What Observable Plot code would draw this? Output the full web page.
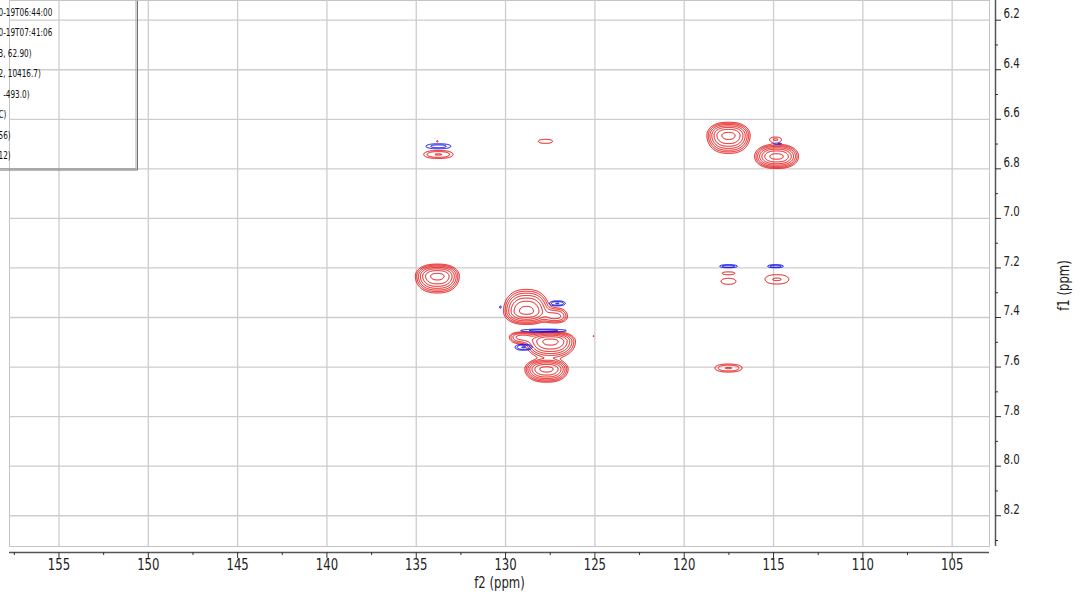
<!DOCTYPE html>
<html>
<head>
<meta charset="utf-8">
<script src="https://cdn.jsdelivr.net/npm/d3@7"></script>
<script src="https://cdn.jsdelivr.net/npm/@observablehq/plot@0.6"></script>
<style>
  html, body { margin: 0; padding: 0; background: #fff; }
  #chart { position: relative; width: 1082px; height: 596px; overflow: hidden; }
</style>
</head>
<body>
<div id="chart"></div>
<script>
// HSQC aromatic region: cross-peaks as (13C shift f2, 1H shift f1, height, linewidths in ppm).
// Negative heights are the opposite-phase (blue) contours.
const peakF2 = [133.82, 128.83, 127.21, 127.49, 129.11, 127.71, 117.52, 114.83, 114.89,
                133.76, 133.82, 127.77, 125.08, 117.52, 117.52, 114.81, 117.52,
                133.76, 114.77, 127.10, 130.29, 127.88, 128.99, 117.52, 114.89];
const peakF1 = [7.233, 7.375, 7.395, 7.496, 7.479, 7.608, 6.665, 6.750, 6.681,
                6.742, 6.689, 6.689, 7.475, 7.221, 7.254, 7.246, 7.604,
                6.709, 6.699, 7.343, 7.358, 7.453, 7.520, 7.193, 7.193];
const peakHeight = [13, 13, 4, 13, 4, 13, 13, 13, 1.5,
                    2.3, 1.1, 1.5, 1.1, 1.4, 1.5, 1.55, 2.3,
                    -1.8, -1.3, -2.3, -1.15, -1.8, -2.3, -2.0, -2.0];
const peakWidthF2 = [0.64, 0.67, 0.45, 0.73, 0.45, 0.63, 0.63, 0.64, 0.34,
                     0.67, 0.09, 0.43, 0.06, 0.39, 0.45, 0.70, 0.62,
                     0.655, 0.28, 0.36, 0.084, 1.20, 0.39, 0.44, 0.39];
const peakWidthF1Up = [0.0214, 0.039, 0.020, 0.0177, 0.012, 0.0177, 0.0234, 0.0214, 0.010,
                       0.0125, 0.006, 0.009, 0.004, 0.006, 0.0133, 0.020, 0.0125,
                       0.0093, 0.004, 0.0078, 0.008, 0.0056, 0.0093, 0.0052, 0.0052];
const peakWidthF1Down = [0.030, 0.0234, 0.016, 0.030, 0.016, 0.0234, 0.032, 0.0214, 0.010,
                         0.0125, 0.006, 0.009, 0.004, 0.006, 0.0133, 0.020, 0.0125,
                         0.0093, 0.004, 0.0078, 0.008, 0.0056, 0.0093, 0.0052, 0.0052];

const contourLevels = [1, 1.5, 2.25, 3.4, 5.1, 7.6, 11.4];

const f2Ticks = [155, 150, 145, 140, 135, 130, 125, 120, 115, 110, 105];
const f2MinorTicks = [157.5, 152.5, 147.5, 142.5, 137.5, 132.5, 127.5, 122.5, 117.5, 112.5, 107.5];
const f1Ticks = [6.2, 6.4, 6.6, 6.8, 7.0, 7.2, 7.4, 7.6, 7.8, 8.0, 8.2];
const f1MinorTicks = [6.3, 6.5, 6.7, 6.9, 7.1, 7.3, 7.5, 7.7, 7.9, 8.1, 8.3];

const legendLines = ["0-19T06:44:00", "0-19T07:41:06", "3, 62.90)", "2, 10416.7)",
                     "\u00a0\u00a0-493.0)", "C)", "56)", "12)"];

// spectral window shown
const X_LEFT = 157.77, X_RIGHT = 102.91;
const Y_TOP = 6.1206, Y_BOTTOM = 8.3242;

// summed peak surface for one phase (sign = +1 or -1)
function surface(sign) {
  const n = peakF2.length;
  return (x, y) => {
    let v = 0;
    for (let i = 0; i < n; ++i) {
      const h = peakHeight[i] * sign;
      if (h <= 0) continue;
      const u = Math.abs(x - peakF2[i]) / peakWidthF2[i];
      if (u > 4) continue;
      const dy = y - peakF1[i];
      const t = dy / (dy < 0 ? peakWidthF1Up[i] : peakWidthF1Down[i]);
      if (t * t > 32) continue;
      v += h * Math.exp(-0.5 * (Math.pow(u, 2.5) + t * t));
    }
    return v;
  };
}

const FONT = "'DejaVu Sans', sans-serif";
const axisColor = "#555";

const chart = Plot.plot({
  width: 1082,
  height: 596,
  marginLeft: 9,
  marginRight: 93,
  marginTop: 0,
  marginBottom: 50,
  x: {domain: [X_LEFT, X_RIGHT], axis: null},
  y: {domain: [Y_BOTTOM, Y_TOP], axis: null},
  style: {fontFamily: FONT, background: "#fff", color: "#222"},
  marks: [
    Plot.frame({stroke: "#c4c4c4"}),
    Plot.ruleX(f2Ticks, {x: d => d, y1: Y_TOP, y2: Y_BOTTOM, stroke: "#cdcdcd", strokeWidth: 1.3}),
    Plot.ruleY(f1Ticks, {y: d => d, x1: X_LEFT, x2: X_RIGHT, stroke: "#cdcdcd", strokeWidth: 1.3}),

    // positive and negative contours
    Plot.contour({
      value: surface(1), x1: X_RIGHT, x2: X_LEFT, y1: Y_TOP, y2: Y_BOTTOM,
      thresholds: contourLevels, pixelSize: 0.5,
      fill: "none", stroke: "#e60000", strokeWidth: 1
    }),
    Plot.contour({
      value: surface(-1), x1: X_RIGHT, x2: X_LEFT, y1: Y_TOP, y2: Y_BOTTOM,
      thresholds: contourLevels, pixelSize: 0.5,
      fill: "none", stroke: "#0000e6", strokeWidth: 1
    }),

    // f2 axis (bottom)
    Plot.ruleY([Y_BOTTOM], {y: d => d, x1: X_LEFT, x2: X_RIGHT, dy: 6, stroke: axisColor, strokeWidth: 1.5}),
    Plot.ruleX(f2Ticks, {x: d => d, y1: Y_BOTTOM, y2: Y_BOTTOM, dy: 6, insetBottom: -6, stroke: "#333"}),
    Plot.ruleX(f2MinorTicks, {x: d => d, y1: Y_BOTTOM, y2: Y_BOTTOM, dy: 6, insetBottom: -3, stroke: "#333"}),
    Plot.text(f2Ticks, {x: d => d, y: Y_BOTTOM, dy: 18, text: d => String(d),
      fontSize: 16, fontFamily: FONT, fill: "#222"}),
    Plot.text(["f2 (ppm)"], {frameAnchor: "bottom", dy: 36, lineAnchor: "middle", textAnchor: "middle",
      text: d => d, fontSize: 16, fontFamily: FONT, fill: "#222"}),

    // f1 axis (right)
    Plot.ruleX([X_RIGHT], {x: d => d, y1: Y_TOP, y2: Y_BOTTOM, dx: 6, stroke: axisColor, strokeWidth: 1.5}),
    Plot.ruleY(f1Ticks, {y: d => d, x1: X_RIGHT, x2: X_RIGHT, dx: 6, insetRight: -6, stroke: "#333"}),
    Plot.ruleY(f1MinorTicks, {y: d => d, x1: X_RIGHT, x2: X_RIGHT, dx: 6, insetRight: -3, stroke: "#333"}),
    Plot.text(f1Ticks, {x: X_RIGHT, y: d => d, dx: 14, dy: -6.5, textAnchor: "start",
      text: d => d.toFixed(1), fontSize: 14, fontFamily: FONT, fill: "#222"}),
    Plot.text(["f1 (ppm)"], {frameAnchor: "right", dx: 74, dy: 12, rotate: -90,
      textAnchor: "middle", lineAnchor: "middle", text: d => d,
      fontSize: 16, fontFamily: FONT, fill: "#222"}),

    // acquisition parameters panel
    Plot.text([legendLines.join("\n")], {frameAnchor: "top-left", dx: -11, dy: 0.5, lineAnchor: "top",
      textAnchor: "start", lineHeight: 2.05, text: d => d,
      fontSize: 10, fontFamily: FONT, fill: "#111"})
  ]
});

// parameters panel outline with drop shadow
const svg = d3.select(chart);
const panel = svg.append("g").attr("fill", "none");
panel.append("rect").attr("x", -4).attr("y", -4).attr("width", 140).attr("height", 172.5)
  .attr("stroke", "#a8a8a8");
panel.append("path").attr("d", "M137.5,1V170H-4").attr("stroke", "#707070");

document.getElementById("chart").append(chart);

// narrow lettering: compress every label horizontally
const squeeze = 0.73;
chart.querySelectorAll("text").forEach(t => {
  const spans = t.querySelectorAll("tspan");
  (spans.length ? Array.from(spans) : [t]).forEach(el => {
    const w = el.getComputedTextLength();
    if (w > 0) {
      el.setAttribute("textLength", (w * squeeze).toFixed(2));
      el.setAttribute("lengthAdjust", "spacingAndGlyphs");
    }
  });
});
</script>
</body>
</html>
